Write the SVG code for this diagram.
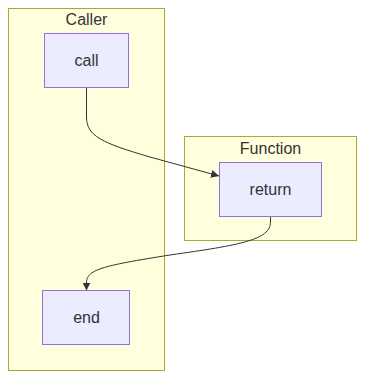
<svg xmlns="http://www.w3.org/2000/svg" width="365" height="378" viewBox="0 0 365 378">
<style>
.cluster{fill:#ffffde;stroke:#aaaa33;stroke-width:1}
.node{fill:#ECECFF;stroke:#9370DB;stroke-width:1}
text{font-family:"Liberation Sans",Arial,sans-serif;font-size:16px;fill:#333;text-anchor:middle}
.edge{fill:none;stroke:#333;stroke-width:1}
</style>
<defs>
<marker id="arrow" viewBox="0 0 10 10" refX="10" refY="5" markerWidth="8" markerHeight="8" markerUnits="userSpaceOnUse" orient="auto">
<path d="M0,0 L10,5 L0,10 z" fill="#333"/>
</marker>
</defs>
<g id="cluster-Caller">
<rect class="cluster" x="8.5" y="8.5" width="156" height="362"/>
<text x="86.5" y="25">Caller</text>
</g>
<g id="cluster-Function">
<rect class="cluster" x="184.5" y="136.5" width="172" height="104"/>
<text x="270.5" y="154">Function</text>
</g>
<g id="edges">
<path class="edge" d="M86.5,87 L86.5,117 C86.5,136 102,143 150,157 L219,176" marker-end="url(#arrow)"/>
<path class="edge" d="M270.5,216 L270.5,222 C270.5,240 240,245 170,255 C100,266 86.5,270 86.5,283 L86.5,290.5" marker-end="url(#arrow)"/>
</g>
<g id="node-call">
<rect class="node" x="44.5" y="33.5" width="84" height="54"/>
<text x="86.5" y="66">call</text>
</g>
<g id="node-return">
<rect class="node" x="219.5" y="162.5" width="102" height="54"/>
<text x="270.5" y="195">return</text>
</g>
<g id="node-end">
<rect class="node" x="42.5" y="290.5" width="87" height="54"/>
<text x="86.5" y="323">end</text>
</g>
</svg>
